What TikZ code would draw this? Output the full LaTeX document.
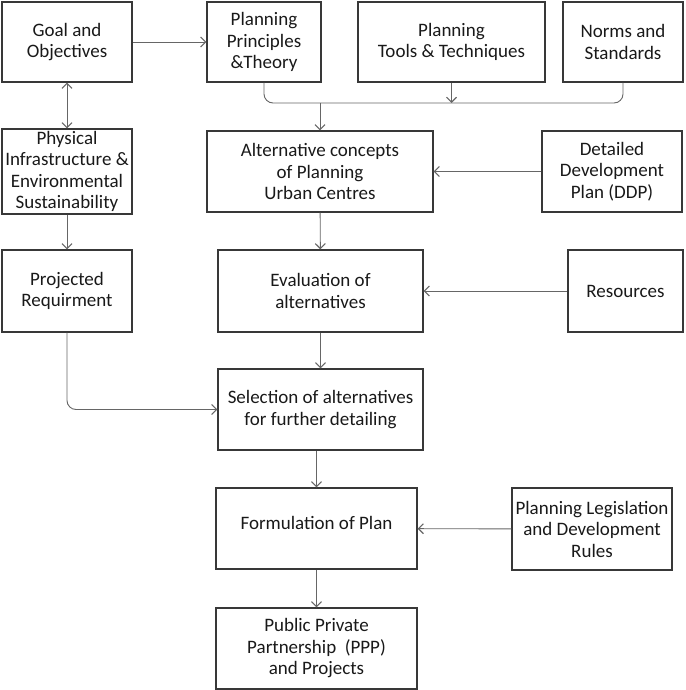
\documentclass[tikz,border=0pt]{standalone}
\usepackage{fontspec}
\setmainfont{Carlito}
\usetikzlibrary{arrows.meta}

\begin{document}
\begin{tikzpicture}[x=1pt, y=-1pt,
		box/.style={draw=black!78, line width=1.3pt, align=center, inner sep=2pt,
			font=\fontsize{19}{21.5}\selectfont, text=black!90},
		arr/.style={draw=black!60, line width=0.9pt, -{Straight Barb[length=5pt,width=10pt,line width=1.1pt]}},
		link/.style={draw=black!60, line width=0.9pt, rounded corners=9pt}]
		\useasboundingbox (0,0) rectangle (685,690);
		% top row
		\node[box, minimum width=130pt, minimum height=80pt] (goal) at (67,42) {Goal and\\Objectives};
		\node[box, minimum width=114pt, minimum height=80pt] (princ) at (264,42) {Planning\\Principles\\\&Theory};
		\node[box, minimum width=187pt, minimum height=80pt] (tools) at (451.5,42) {Planning\\Tools \& Techniques};
		\node[box, minimum width=120pt, minimum height=80pt] (norms) at (623,42) {Norms and\\Standards};
		% second row
		\node[box, minimum width=130pt, minimum height=81pt] (phys) at (67,171.5) {Physical\\Infrastructure \&\\Environmental\\Sustainability};
		\node[box, minimum width=226pt, minimum height=81pt] (alt) at (320,171.5) {Alternative concepts\\of Planning\\Urban Centres};
		\node[box, minimum width=140pt, minimum height=81pt] (ddp) at (612,171.5) {Detailed\\Development\\Plan (DDP)};
		% third row
		\node[box, minimum width=130pt, minimum height=82pt] (proj) at (67,291) {Projected\\Requirment};
		\node[box, minimum width=205pt, minimum height=82pt] (eval) at (320.5,291) {Evaluation of\\alternatives};
		\node[box, minimum width=115pt, minimum height=82pt] (res) at (625.5,291) {Resources};
		% lower part
		\node[box, minimum width=205pt, minimum height=81pt] (sel) at (320.5,409.5) {Selection of alternatives\\for further detailing};
		\node[box, minimum width=201pt, minimum height=81pt] (form) at (316.5,528.5) {Formulation of Plan\\[-10pt]};
		\node[box, minimum width=160pt, minimum height=82pt] (legis) at (592,529) {Planning Legislation\\and Development\\Rules};
		\node[box, minimum width=201pt, minimum height=81pt] (ppp) at (316.5,648.5) {Public Private\\Partnership~ (PPP)\\and Projects};

		\coordinate (bus) at (320,103);
		\draw[arr] (goal) -- (princ);
		\draw[arr, {Straight Barb[length=5pt,width=10pt,line width=1.1pt]}-{Straight Barb[length=5pt,width=10pt,line width=1.1pt]}] (goal) -- (phys);
		\draw[link] (princ.south) |- (bus) -| (norms.south);
		\draw[arr] (tools.south) -- (tools.south |- bus);
		\draw[arr] (bus) -- (alt.north);
		\draw[arr] (ddp) -- (alt);
		\draw[arr] (phys) -- (proj);
		\draw[arr] (alt) -- (eval);
		\draw[arr] (res) -- (eval);
		\draw[arr] (eval) -- (sel);
		\draw[arr, rounded corners=9pt] (proj.south) |- (sel.west);
		\draw[arr] (sel.south -| form.north) -- (form.north);
		\draw[arr] (legis) -- (form);
		\draw[arr] (form) -- (ppp);
	\end{tikzpicture}
\end{document}
